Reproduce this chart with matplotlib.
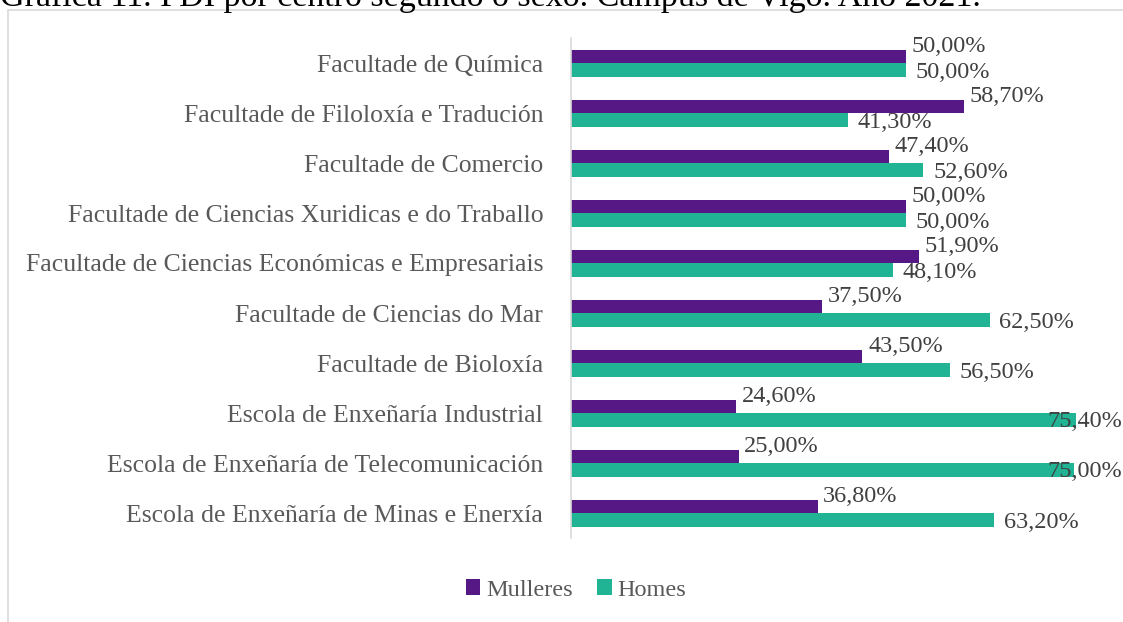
import matplotlib.pyplot as plt
from matplotlib.patches import Rectangle

# Data (share of teaching staff by sex, %)
centros = ['Facultade de Química',
           'Facultade de Filoloxía e Tradución',
           'Facultade de Comercio',
           'Facultade de Ciencias Xuridicas e do Traballo',
           'Facultade de Ciencias Económicas e Empresariais',
           'Facultade de Ciencias do Mar',
           'Facultade de Bioloxía',
           'Escola de Enxeñaría Industrial',
           'Escola de Enxeñaría de Telecomunicación',
           'Escola de Enxeñaría de Minas e Enerxía']
mulleres = [50.0, 58.7, 47.4, 50.0, 51.9, 37.5, 43.5, 24.6, 25.0, 36.8]
homes = [50.0, 41.3, 52.6, 50.0, 48.1, 62.5, 56.5, 75.4, 75.0, 63.2]

purple = '#561885'
teal = '#20b394'
plt.rcParams['font.family'] = ['Liberation Serif', 'DejaVu Serif']

W, H = 1123, 622
fig = plt.figure(figsize=(W / 100, H / 100), dpi=100)

# chart frame
fig.patches.append(Rectangle((8 / W, -0.1), 1.1, 1 - 10 / H + 0.1,
                             transform=fig.transFigure, fill=False,
                             edgecolor='#d9d9d9', linewidth=1.2))

# caption of the document, cut at the top of the picture
fig.text(0, 1 - 6 / H, 'Gráfica 11. PDI por centro segundo o sexo. Campus de Vigo. Ano 2021.',
         fontsize=24.5, color='black', va='baseline', ha='left')

ax = fig.add_axes([571 / W, 1 - 538 / H, (1107 - 571) / W, 500 / H])
ax.set_xlim(0, 80)
ax.set_ylim(len(centros) - 0.5, -0.5)

h = 0.27
ys = range(len(centros))
ax.barh([y - h / 2 for y in ys], mulleres, height=h, color=purple, label='Mulleres')
ax.barh([y + h / 2 for y in ys], homes, height=h, color=teal, label='Homes')

ax.set_yticks(list(ys))
ax.set_yticklabels(centros, fontsize=18.5, color='#595959')
ax.tick_params(axis='y', length=0, pad=20)
ax.set_xticks([])
for s in ['top', 'right', 'bottom']:
    ax.spines[s].set_visible(False)
ax.spines['left'].set_color('#d9d9d9')
ax.spines['left'].set_linewidth(1.2)

def lab(v):
    return f'{v:.2f}'.replace('.', ',') + '%'

fs = 17.5
right_px = W - 1
for y, m, ho in zip(ys, mulleres, homes):
    ax.annotate(lab(m), (m, y - h / 2), xytext=(4, 7), textcoords='offset points',
                fontsize=fs, color='#404040', va='center', ha='left')
    # teal labels sit just right of the bar; keep inside the chart area
    xpix = ax.transData.transform((ho, 0))[0] + 10
    if xpix + 75 > right_px:
        fig.text(right_px / W, 1 - (38 + 50 * y + 25 + 25 * h + 2) / H, lab(ho),
                 fontsize=fs, color='#404040', va='center', ha='right')
    else:
        ax.annotate(lab(ho), (ho, y + h / 2), xytext=(7, -2), textcoords='offset points',
                    fontsize=fs, color='#404040', va='center', ha='left')

fig.legend(loc='center', bbox_to_anchor=(576 / W, 1 - 590 / H), ncol=2, frameon=False,
           fontsize=17.5, labelcolor='#595959', handlelength=0.6, handleheight=0.6,
           handletextpad=0.25, columnspacing=1.0)

fig.savefig('out.png', dpi=100)
